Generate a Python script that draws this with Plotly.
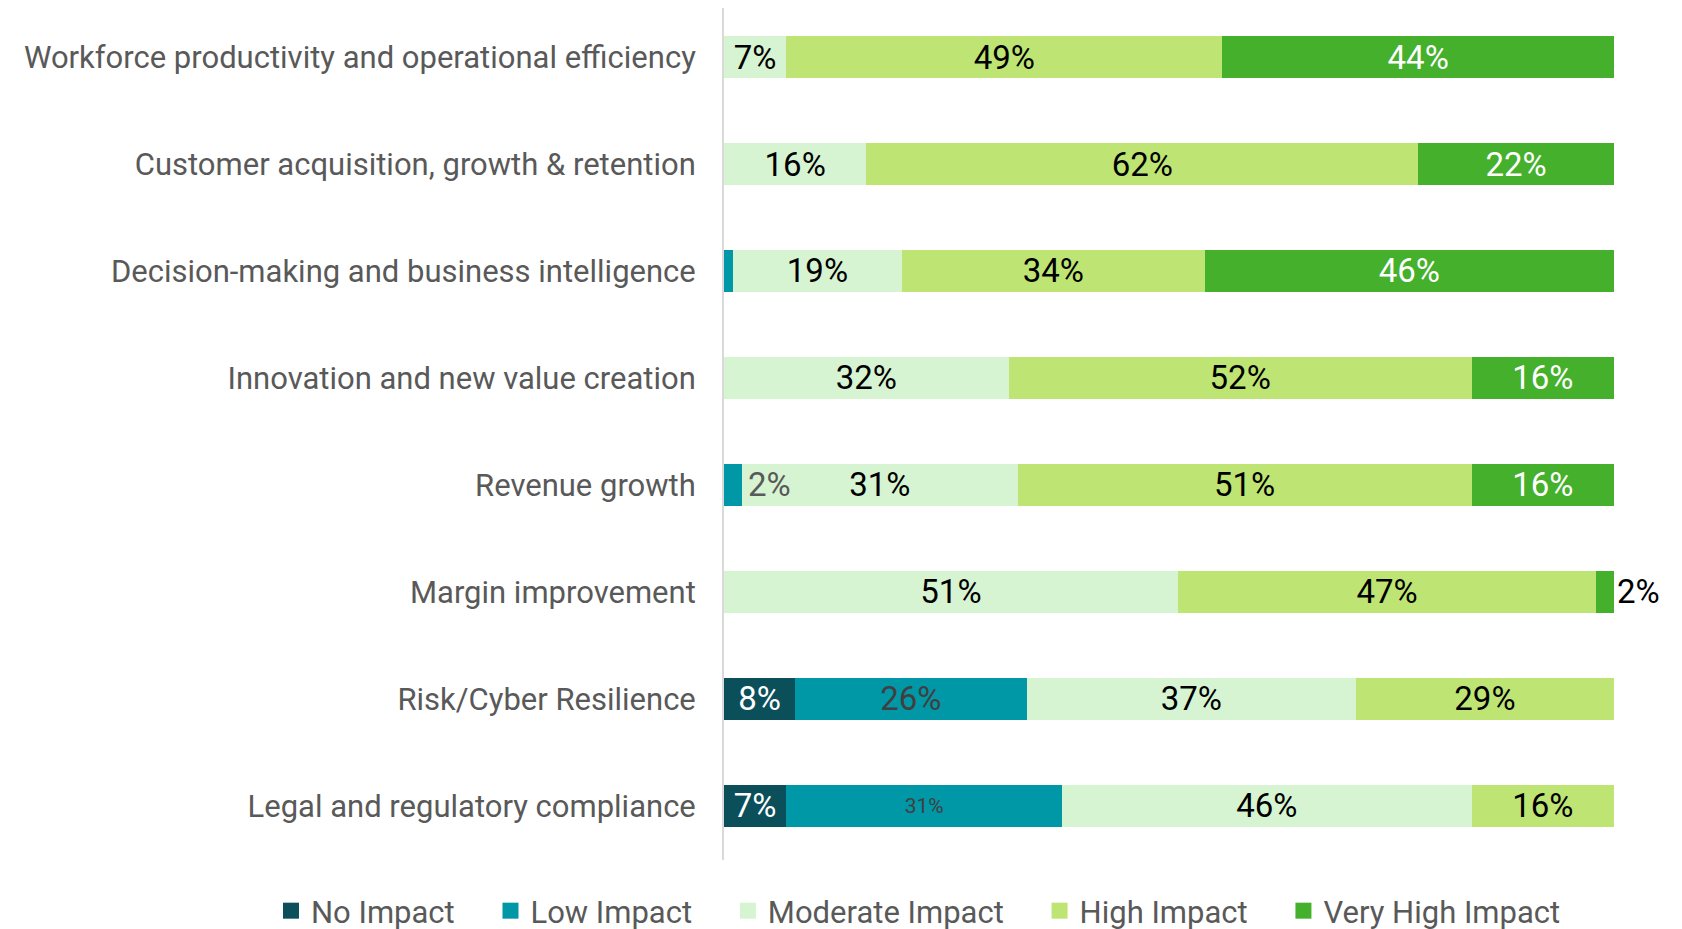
import plotly.graph_objects as go

categories = [
    "Workforce productivity and operational efficiency",
    "Customer acquisition, growth & retention",
    "Decision-making and business intelligence",
    "Innovation and new value creation",
    "Revenue growth",
    "Margin improvement",
    "Risk/Cyber Resilience",
    "Legal and regulatory compliance",
]
series_names = ["No Impact", "Low Impact", "Moderate Impact", "High Impact", "Very High Impact"]
no_impact = [0, 0, 0, 0, 0, 0, 8, 7]
low_impact = [0, 0, 1, 0, 2, 0, 26, 31]
moderate_impact = [7, 16, 19, 32, 31, 51, 37, 46]
high_impact = [49, 62, 34, 52, 51, 47, 29, 16]
very_high_impact = [44, 22, 46, 16, 16, 2, 0, 0]

colors = ["#0B4F5A", "#0097A7", "#D6F4D2", "#BEE473", "#44B02B"]
FONT = "Roboto, Liberation Sans, sans-serif"
FS = 31     # axis / legend text
DL = 33     # data labels
PAD = "\u00a0" * 4

series = [no_impact, low_impact, moderate_impact, high_impact, very_high_impact]

fig = go.Figure()
for idx, (name, vals, col) in enumerate(zip(series_names, series, colors)):
    texts, tcolors, tsizes, tpos = [], [], [], []
    for cat, v in zip(categories, vals):
        t = f"{v}%" if v else ""
        pos = "inside"
        size = DL
        if name == "No Impact":
            tc = "white"
        elif name == "Low Impact":
            tc = "#404040"
            if v <= 2:
                t = ""
            if cat.startswith("Legal"):
                size = 21
        elif name == "Very High Impact":
            tc = "white"
            if v and v <= 3:
                pos = "outside"
                tc = "black"
        else:
            tc = "black"
        texts.append(t)
        tcolors.append(tc)
        tsizes.append(size)
        tpos.append(pos)
    fig.add_trace(go.Bar(
        name=name, showlegend=False,
        y=categories, x=[v if v else None for v in vals], orientation="h",
        marker=dict(color=col, line=dict(width=0)),
        text=texts, textposition=tpos, insidetextanchor="middle",
        textfont=dict(family=FONT, size=tsizes, color=tcolors),
        outsidetextfont=dict(family=FONT, size=DL, color="black"),
        cliponaxis=False, constraintext="none", hoverinfo="x+name",
    ))

# legend entries with larger square swatches
for idx, (name, col) in enumerate(zip(series_names, colors)):
    fig.add_trace(go.Scatter(
        x=[None], y=[None], mode="markers",
        name=name + (PAD if idx < len(series_names) - 1 else ""),
        marker=dict(symbol="square", size=16, color=col, line=dict(width=0)),
        showlegend=True,
    ))

# Low-impact label of Revenue growth, drawn just right of its thin segment
ri = categories.index("Revenue growth")
fig.add_annotation(x=low_impact[ri], y=categories[ri], text=f"{low_impact[ri]}%",
                   xanchor="left", showarrow=False, xshift=4,
                   font=dict(family=FONT, size=DL, color="#595959"))

fig.update_layout(
    barmode="stack", bargap=0.6,
    width=1682, height=929,
    margin=dict(l=716, r=76, t=0, b=77, autoexpand=False),
    plot_bgcolor="white", paper_bgcolor="white",
    font=dict(family=FONT, color="#595959"),
    legend=dict(orientation="h", xref="paper", yref="paper",
                x=-0.509, xanchor="left", y=-0.0282, yanchor="top",
                font=dict(family=FONT, size=FS, color="#595959"),
                traceorder="normal", itemwidth=30),
    xaxis=dict(range=[0, 100], visible=False, fixedrange=True),
    yaxis=dict(range=[7.505, -0.458], showline=True, linecolor="#D9D9D9", linewidth=2,
               ticks="", ticklabelstandoff=20, automargin=False,
               tickfont=dict(family=FONT, size=FS, color="#595959")),
)

fig.write_html("out.html")
